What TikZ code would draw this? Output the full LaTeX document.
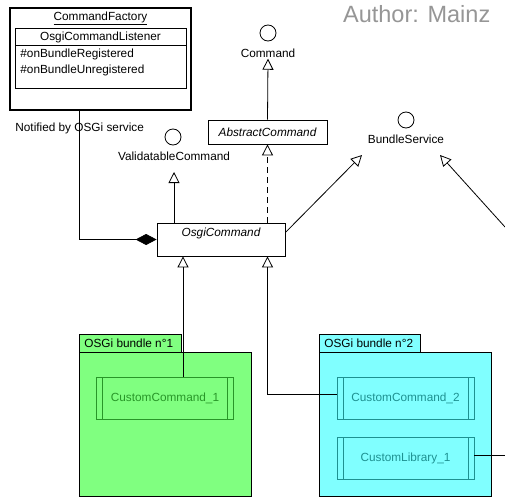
\documentclass[tikz,border=0pt]{standalone}
\usepackage{fontspec}
\setmainfont{Liberation Sans}
\usetikzlibrary{arrows.meta}
\definecolor{bundlegreen}{RGB}{128,255,128}
\definecolor{bundlecyan}{RGB}{128,255,255}
\definecolor{compgreen}{RGB}{40,150,40}
\definecolor{compcyan}{RGB}{30,145,145}
\definecolor{authorgray}{RGB}{150,150,150}

\begin{document}
\begin{tikzpicture}[x=1pt, y=-1pt, line width=0.8pt,
  font=\fontsize{11.8}{14}\selectfont,
  iface/.style={circle, draw, minimum size=16pt, inner sep=0pt},
  ifacelabel/.style={inner sep=1pt},
  classbox/.style={draw, rectangle, inner sep=0pt},
  realize/.style={-{Triangle[open, length=11pt, width=11pt]}},
  compbox/.style={draw=#1, text=#1, rectangle, minimum width=137pt, minimum height=42pt,
    path picture={\draw[#1] ([xshift=6pt]path picture bounding box.north west) -- ([xshift=6pt]path picture bounding box.south west)
      ([xshift=-6pt]path picture bounding box.north east) -- ([xshift=-6pt]path picture bounding box.south east);}}]
  \useasboundingbox (0,0) rectangle (505,503);
  \fill[white] (0,0) rectangle (505,503);

  % author
  \node[text=authorgray, font=\fontsize{23.5}{26}\selectfont, anchor=east] (author) at (494,14) {Author: Mainz};

  % command factory
  \draw[line width=2pt] (10,8) rectangle (191,110);
  \node (cf) at (100.5,18) {\underline{CommandFactory}};
  \draw (15,28) rectangle (186,88);
  \draw (15,45) -- (186,45);
  \node (ocl) at (100.5,37) {OsgiCommandListener};
  \node[anchor=west, inner sep=0pt] (reg) at (20,54) {\#onBundleRegistered};
  \node[anchor=west, inner sep=0pt] (unreg) at (20,70) {\#onBundleUnregistered};
  \coordinate (notify) at (79,110);
  \node[anchor=west, inner sep=0pt] (notifytext) at (15,128) {Notified by OSGi service};

  % interfaces
  \node[iface] (cmd) at (268,33) {};
  \node[ifacelabel] (cmdlabel) at (268,53) {Command};
  \node[iface] (vc) at (173,137) {};
  \node[ifacelabel] (vclabel) at (174,156) {ValidatableCommand};
  \node[iface] (bs) at (406,120) {};
  \node[ifacelabel] (bslabel) at (406,139) {BundleService};
  \coordinate (vctip) at (174,172);
  \coordinate (bstip1) at (362,155);
  \coordinate (bstip2) at (440,155);
  \coordinate (offright) at (505,227);

  % classes
  \node[classbox, minimum width=119pt, minimum height=24pt, font=\fontsize{11.8}{14}\selectfont\itshape] (ac) at (267.5,132) {AbstractCommand};
  \node[classbox, minimum width=128pt, minimum height=33pt,
    label={[anchor=north, yshift=-4pt, inner sep=1pt, font=\fontsize{11.8}{14}\selectfont\itshape]north:OsgiCommand}] (oc) at (221,239.5) {};

  % bundles
  \filldraw[fill=bundlegreen] (79,334) rectangle (181,352);
  \filldraw[fill=bundlegreen] (79,352) rectangle (251,496);
  \node[anchor=west, inner sep=0pt] (b1) at (84,343) {OSGi bundle n°1};
  \filldraw[fill=bundlecyan] (319,334) rectangle (420,352);
  \filldraw[fill=bundlecyan] (319,352) rectangle (491,496);
  \node[anchor=west, inner sep=0pt] (b2) at (324,343) {OSGi bundle n°2};
  \node[compbox=compgreen] (cc1) at (165,398) {CustomCommand\_1};
  \node[compbox=compcyan] (cc2) at (405.5,398) {CustomCommand\_2};
  \node[compbox=compcyan] (cl) at (405.5,458) {CustomLibrary\_1};
  \coordinate (libout) at (505,455);

  % connectors
  \draw[{Diamond[length=21pt, width=11pt]}-] (oc.west) -| (notify);
  \draw[realize] (ac.north) -- (cmdlabel.south);
  \draw[realize] (oc.north -| vclabel) -- (vctip);
  \draw[realize, dash pattern=on 6pt off 4pt] (oc.north -| ac) -- (ac.south);
  \draw[realize] ([yshift=7pt]oc.east) -- (bstip1);
  \draw[realize] (offright) -- (bstip2);
  \draw[realize] ([xshift=18pt]cc1.north) -- ([xshift=18pt]cc1.north |- oc.south);
  \draw[realize] ([yshift=4pt]cc2.west) -| (oc.south -| ac);
  \draw ([yshift=3pt]cl.east) -- (libout);
\end{tikzpicture}
\end{document}
